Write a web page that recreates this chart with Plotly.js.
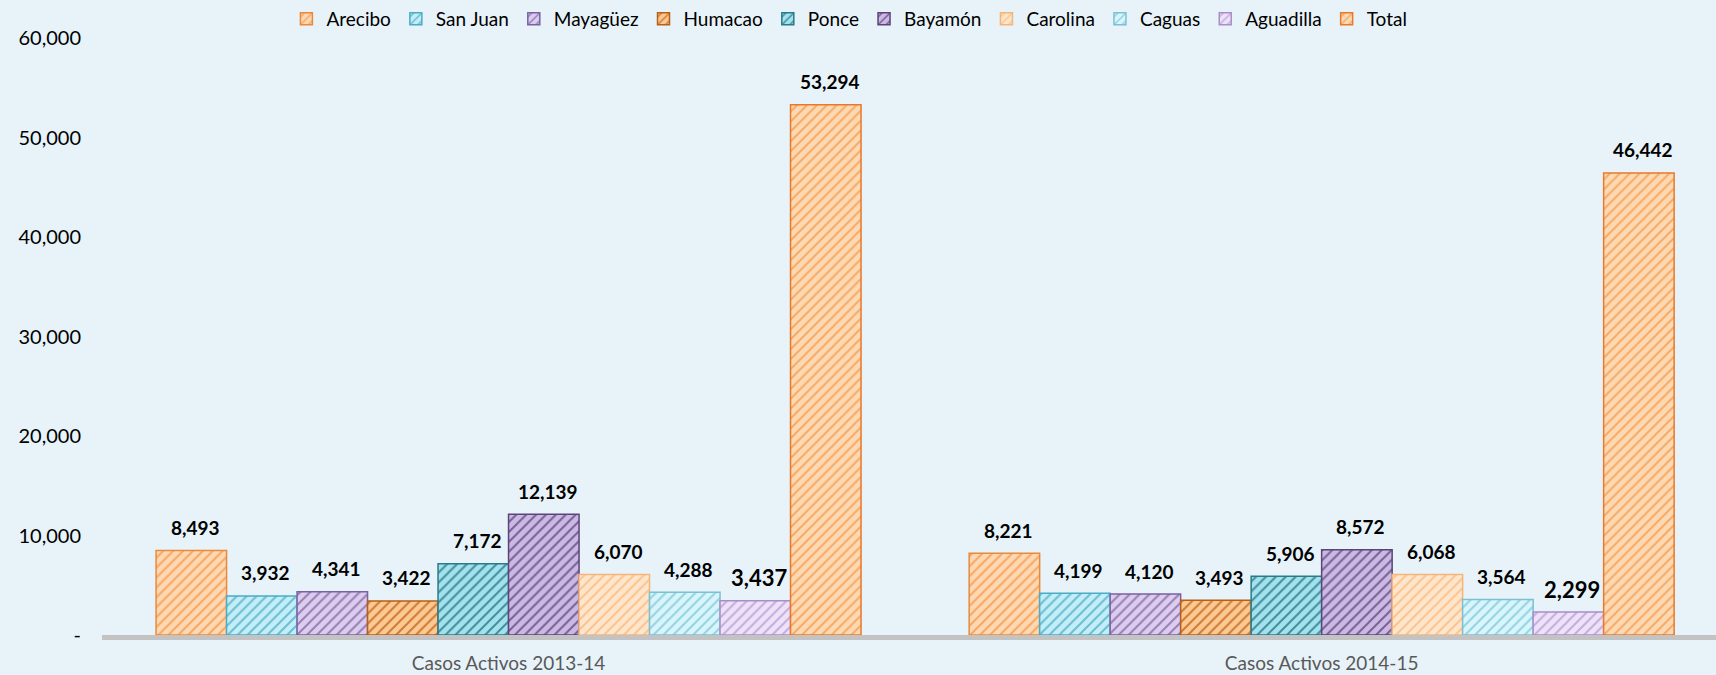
<!DOCTYPE html>
<html>
<head>
<meta charset="utf-8">
<script src="https://cdn.plot.ly/plotly-3.0.1.min.js"></script>
<style>
  html, body { margin: 0; padding: 0; background: #e7f3f9; }
  #chart { width: 1716px; height: 675px; }
</style>
</head>
<body>
<div id="chart"></div>
<script>
// ---- data ----
const categories = ["Casos Activos 2013-14", "Casos Activos 2014-15"];
const regions = ["Arecibo", "San Juan", "Mayagüez", "Humacao", "Ponce", "Bayamón", "Carolina", "Caguas", "Aguadilla", "Total"];
const arecibo   = [8493, 8221];
const sanJuan   = [3932, 4199];
const mayaguez  = [4341, 4120];
const humacao   = [3422, 3493];
const ponce     = [7172, 5906];
const bayamon   = [12139, 8572];
const carolina  = [6070, 6068];
const caguas    = [4288, 3564];
const aguadilla = [3437, 2299];
const total     = [53294, 46442];
const yTickVals  = [0, 10000, 20000, 30000, 40000, 50000, 60000];
const yTickText  = ["-", "10,000", "20,000", "30,000", "40,000", "50,000", "60,000"];

// ---- styles ----
const seriesValues = [arecibo, sanJuan, mayaguez, humacao, ponce, bayamon, carolina, caguas, aguadilla, total];
const styles = [
  {bg: "#fdd8b2", fg: "#f79646", line: "#e88a3c"},
  {bg: "#c4eef7", fg: "#4bacc6", line: "#4bacc6"},
  {bg: "#dccdef", fg: "#8064a2", line: "#7a62a0"},
  {bg: "#fcc894", fg: "#c0620f", line: "#b65f16"},
  {bg: "#a3e2ec", fg: "#1f7082", line: "#2a7a8a"},
  {bg: "#cbb8e4", fg: "#5a4478", line: "#5a4478"},
  {bg: "#fee6cd", fg: "#fab777", line: "#f5b57a"},
  {bg: "#d8f5fb", fg: "#7cc7da", line: "#7cc0d2"},
  {bg: "#ede2f8", fg: "#b59bd4", line: "#a98ec8"},
  {bg: "#fdd9b3", fg: "#f59a4a", line: "#e8792a"}
];

const fmt = v => v.toLocaleString("en-US");

const margin = {l: 102, r: 0, t: 36, b: 40};
const xRange = [-0.5, 1.485];
const bargap = 0.133;
const plotW = 1716 - margin.l - margin.r;
const unitPx = plotW / (xRange[1] - xRange[0]);
const barPx = unitPx * (1 - bargap) / regions.length;

const traces = regions.map((name, i) => ({
  type: "bar",
  name: name,
  x: categories,
  y: seriesValues[i],
  marker: {
    color: styles[i].bg,
    line: {color: styles[i].line, width: 1.5},
    pattern: {shape: "/", bgcolor: styles[i].bg, fgcolor: styles[i].fg, fgopacity: 0.75, size: 7, solidity: 0.28, fillmode: "replace"}
  },
  hoverinfo: "name+y"
}));

// value labels, anchored at each bar's data value
const annotations = [];
regions.forEach((name, i) => {
  seriesValues[i].forEach((v, j) => {
    annotations.push({
      x: categories[j],
      y: v,
      xref: "x", yref: "y",
      text: "<b>" + fmt(v) + "</b>",
      showarrow: false,
      xanchor: "center", yanchor: "middle",
      xshift: (i - (regions.length - 1) / 2) * barPx + 4,
      yshift: 23,
      font: {family: "Lato, 'Open Sans', sans-serif", size: name === "Aguadilla" ? 22 : 19, color: "#000"}
    });
  });
});

const layout = {
  width: 1716,
  height: 675,
  paper_bgcolor: "#e7f3f9",
  plot_bgcolor: "rgba(0,0,0,0)",
  margin: margin,
  barmode: "group",
  bargap: bargap,
  bargroupgap: 0,
  font: {family: "Lato, 'Open Sans', sans-serif", color: "#000"},
  showlegend: true,
  legend: {
    orientation: "h",
    xref: "container", yref: "container",
    x: 0.495, xanchor: "center",
    y: 1.0, yanchor: "top",
    font: {size: 19, color: "#000"},
    bgcolor: "rgba(0,0,0,0)",
    itemwidth: 30,
    tracegroupgap: 0
  },
  annotations: annotations,
  xaxis: {
    type: "category",
    range: xRange,
    tickfont: {size: 19, color: "#595959"},
    showline: true,
    linecolor: "#c3c3c3",
    linewidth: 5,
    ticks: "",
    ticklabelstandoff: 7,
    showgrid: false
  },
  yaxis: {
    range: [0, 60000],
    tickvals: yTickVals,
    ticktext: yTickText,
    tickfont: {size: 20, color: "#000"},
    showgrid: false,
    zeroline: false,
    showline: false,
    ticks: "",
    ticklabelstandoff: 20
  }
};

Plotly.newPlot("chart", traces, layout, {displayModeBar: false, staticPlot: true});
</script>
</body>
</html>
